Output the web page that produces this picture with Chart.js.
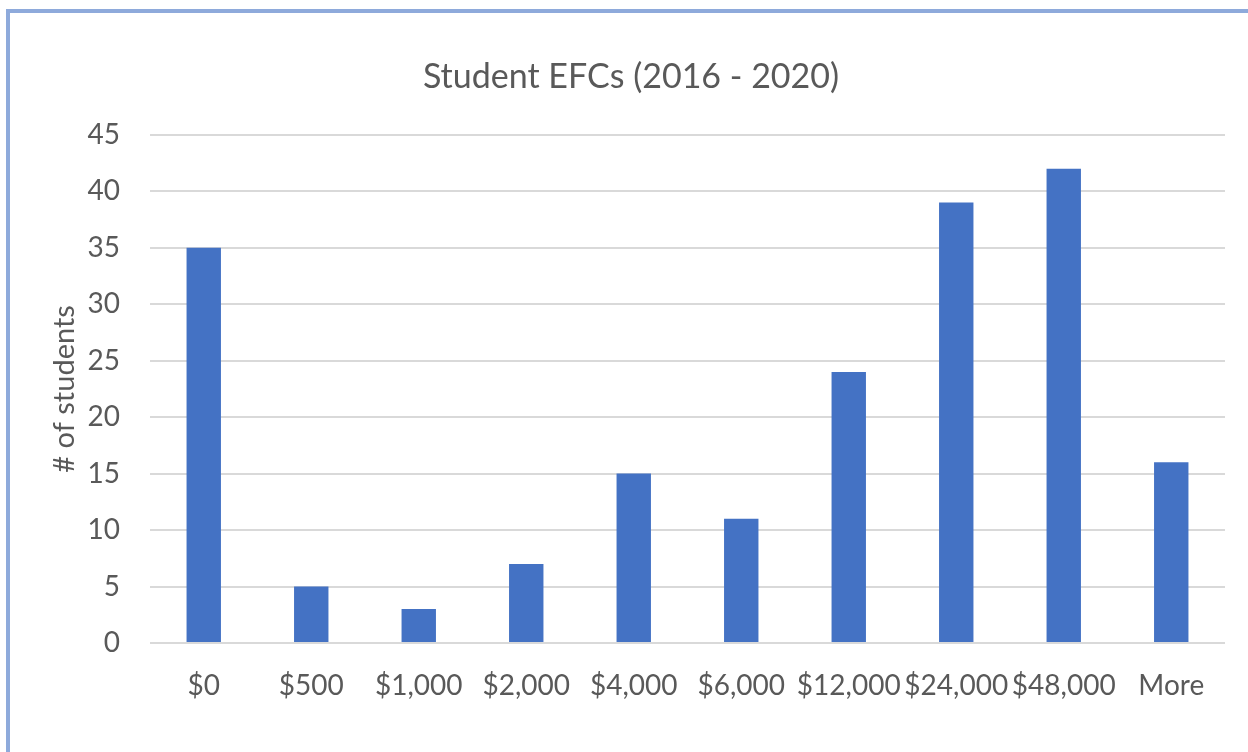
<!DOCTYPE html>
<html>
<head>
<meta charset="utf-8">
<script src="https://cdn.jsdelivr.net/npm/chart.js@4"></script>
<style>
  html, body { margin: 0; padding: 0; background: #fff; }
  #frame {
    position: absolute; left: 6px; top: 9px; width: 1300px; height: 800px;
    border-left: 4px solid #8eaadb; border-top: 4px solid #8eaadb;
  }
  #wrap { position: absolute; left: 0; top: 0; width: 1248px; height: 752px; }
</style>
</head>
<body>
<div id="frame"></div>
<div id="wrap"><canvas id="chart"></canvas></div>
<script>
// 区間ラベルと人数
const categories = ['$0', '$500', '$1,000', '$2,000', '$4,000', '$6,000', '$12,000', '$24,000', '$48,000', 'More'];
const students = [35, 5, 3, 7, 15, 11, 24, 39, 42, 16];
const yTicks = [0, 5, 10, 15, 20, 25, 30, 35, 40, 45];

const FONT = 'Lato, "Open Sans", sans-serif';
const GREY = '#595959';

const ctx = document.getElementById('chart').getContext('2d');
new Chart(ctx, {
  type: 'bar',
  data: {
    labels: categories,
    datasets: [{
      label: '# of students',
      data: students,
      backgroundColor: '#4472c4',
      categoryPercentage: 1,
      barPercentage: 0.32
    }]
  },
  options: {
    responsive: true,
    maintainAspectRatio: false,
    animation: false,
    // 左の余白はタイトルを少し右寄せにするため
    layout: { padding: { left: 37, right: 23, top: 0, bottom: 0 } },
    plugins: {
      legend: { display: false },
      tooltip: { enabled: false },
      title: {
        display: true,
        text: 'Student EFCs (2016 - 2020)',
        color: GREY,
        font: { family: FONT, size: 34, weight: 'normal' },
        padding: { top: 57, bottom: 37 }
      }
    },
    scales: {
      x: {
        grid: { display: false },
        border: { display: false },
        ticks: {
          color: GREY,
          font: { family: FONT, size: 28 },
          maxRotation: 0,
          autoSkip: false,
          padding: 18
        },
        afterFit: (scale) => { scale.height = 109; }
      },
      y: {
        min: 0,
        max: 45,
        afterBuildTicks: (scale) => { scale.ticks = yTicks.map(v => ({ value: v })); },
        grid: { color: '#d9d9d9', lineWidth: 2, drawTicks: false },
        border: { display: false },
        ticks: {
          color: GREY,
          font: { family: FONT, size: 28 },
          padding: 30
        },
        title: {
          display: true,
          text: '# of students',
          color: GREY,
          font: { family: FONT, size: 29 },
          padding: { top: 10, bottom: 0 }
        },
        afterFit: (scale) => { scale.width = 113; }
      }
    }
  }
});
</script>
</body>
</html>
